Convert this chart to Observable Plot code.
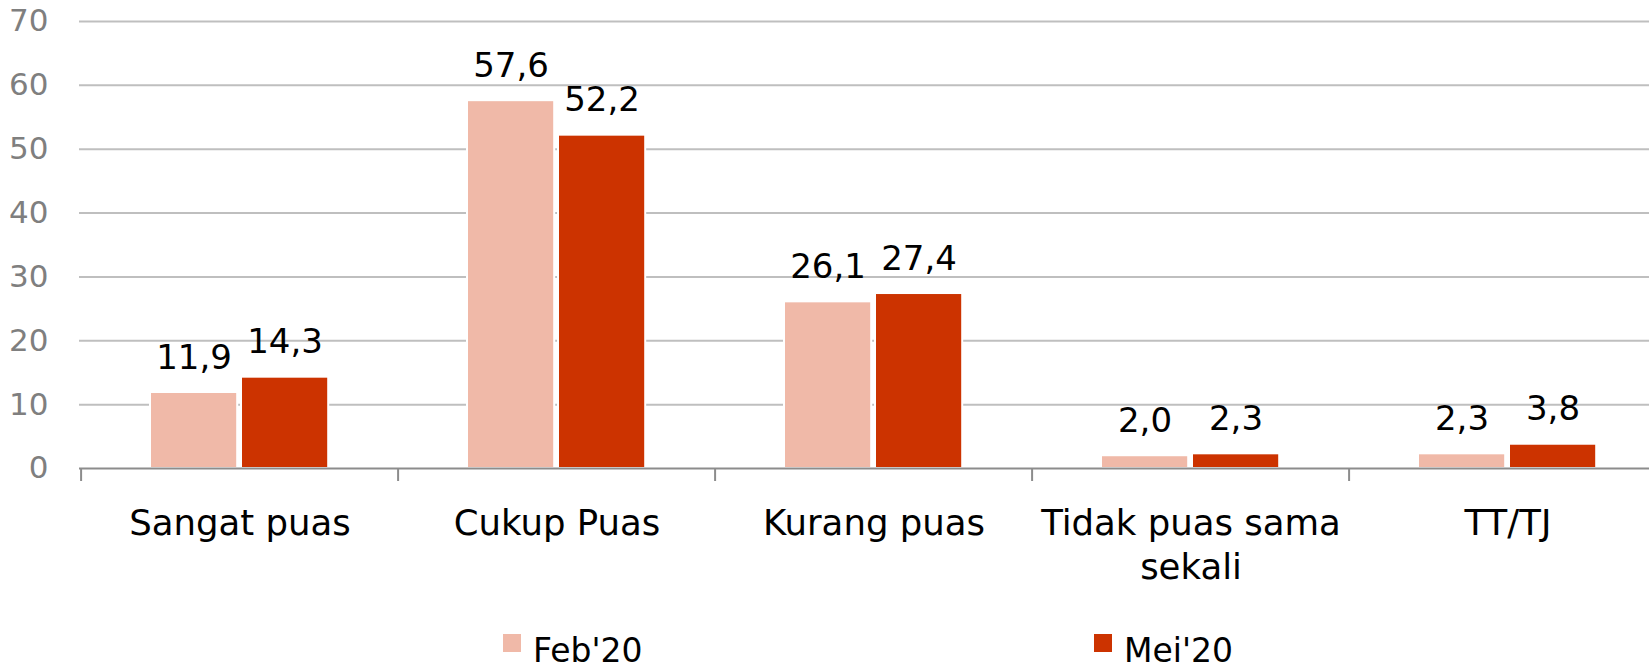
<!DOCTYPE html>
<html>
<head>
<meta charset="utf-8">
<script src="https://cdn.jsdelivr.net/npm/d3@7"></script>
<script src="https://cdn.jsdelivr.net/npm/@observablehq/plot@0.6"></script>
<style>
  html, body { margin: 0; padding: 0; background: #fff; overflow: hidden; }
  #wrap { position: relative; width: 1649px; height: 668px; font-family: "DejaVu Sans", sans-serif; }
  .leg { position: absolute; display: flex; align-items: center; font-size: 33px; color: #000; white-space: nowrap; }
  .sw { width: 18px; height: 18px; margin-right: 12px; }
</style>
</head>
<body>
<div id="wrap"></div>
<script>
const categories = ["Sangat puas", "Cukup Puas", "Kurang puas", "Tidak puas sama\nsekali", "TT/TJ"];
const series = ["Feb'20", "Mei'20"];
const feb20 = [11.9, 57.6, 26.1, 2.0, 2.3];
const mei20 = [14.3, 52.2, 27.4, 2.3, 3.8];
const yTicks = [0, 10, 20, 30, 40, 50, 60, 70];
const colors = ["#F0B9A8", "#CC3300"];

const fmt = v => v.toFixed(1).replace(".", ",");
const febData = categories.map((c, i) => ({category: c, value: feb20[i]}));
const meiData = categories.map((c, i) => ({category: c, value: mei20[i]}));

const W = 1649, H = 600;
const xRange = [79, 1668];
const bw = (xRange[1] - xRange[0]) / categories.length;
const font = "DejaVu Sans, sans-serif";

const chart = Plot.plot({
  width: W,
  height: H,
  marginTop: 21,
  marginBottom: 132,
  marginLeft: 79,
  marginRight: 0,
  style: {fontFamily: font, background: "white", overflow: "hidden"},
  x: {domain: categories, range: xRange, padding: 0, axis: null},
  y: {domain: [0, 70], ticks: yTicks, tickSize: 0, tickPadding: 31, label: null,
      tickFormat: d => String(d)},
  marks: [
    Plot.ruleY(yTicks.filter(d => d > 0), {stroke: "#BFBFBF", strokeWidth: 2}),
    Plot.barY(febData, {x: "category", y: "value", fill: colors[0], stroke: "white", strokeWidth: 2,
      insetLeft: 69, insetRight: bw - 69 - 88}),
    Plot.barY(meiData, {x: "category", y: "value", fill: colors[1], stroke: "white", strokeWidth: 2,
      insetLeft: 160, insetRight: bw - 160 - 88}),
    Plot.ruleY([0], {stroke: "#8C8C8C", strokeWidth: 2}),
    Plot.ruleX(categories, {x: d => d, y1: 0, y2: 0, insetBottom: -13, dx: -bw / 2, stroke: "#8C8C8C", strokeWidth: 2}),
    Plot.text(febData, {x: "category", y: "value", text: d => fmt(d.value), dx: -46, dy: -24,
      lineAnchor: "bottom", fontSize: 34, fill: "#000"}),
    Plot.text(meiData, {x: "category", y: "value", text: d => fmt(d.value), dx: 45, dy: -24,
      lineAnchor: "bottom", fontSize: 34, fill: "#000"}),
    Plot.text(categories, {x: d => d, y: 0, text: d => d, lineAnchor: "top", dy: 36,
      fontSize: 35.5, lineHeight: 1.22, fill: "#000"})
  ]
});
chart.querySelectorAll("g[aria-label='y-axis tick label'] text, g[aria-label='y-axis'] text").forEach(t => {
  t.setAttribute("fill", "#7F7F7F");
  t.style.fontSize = "31px";
});
const yAxis = chart.querySelector("g[aria-label='y-axis tick label']") || chart.querySelector("g[aria-label='y-axis']");
if (yAxis) { yAxis.setAttribute("font-size", "31"); yAxis.setAttribute("fill", "#7F7F7F"); }

const wrap = document.getElementById("wrap");
wrap.appendChild(chart);

const legendPos = [503, 1094];
series.forEach((s, i) => {
  const item = document.createElement("div");
  item.className = "leg";
  item.style.left = legendPos[i] + "px";
  item.style.top = "626px";
  item.style.height = "36px";
  const sw = document.createElement("div");
  sw.className = "sw";
  sw.style.background = colors[i];
  sw.style.marginTop = "-2px";
  const tx = document.createElement("span");
  tx.textContent = s;
  tx.style.position = "relative";
  tx.style.top = "6px";
  item.appendChild(sw);
  item.appendChild(tx);
  wrap.appendChild(item);
});
</script>
</body>
</html>
